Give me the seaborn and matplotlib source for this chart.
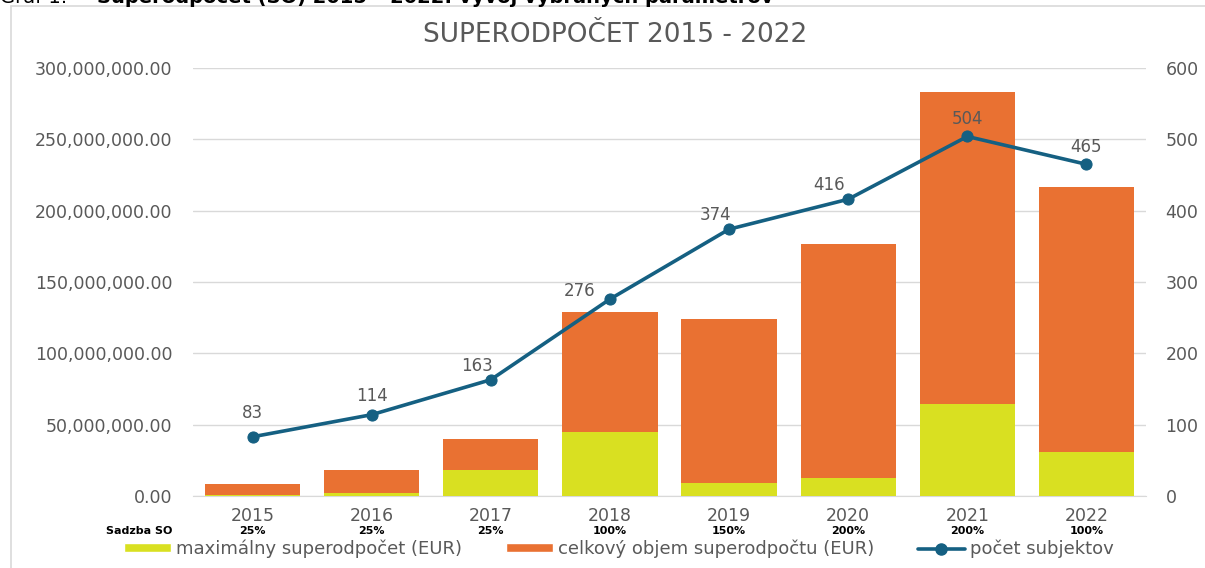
import numpy as np
import pandas as pd
import seaborn as sns
import matplotlib.pyplot as plt
from matplotlib.patches import Patch
from matplotlib.lines import Line2D
from matplotlib.ticker import FuncFormatter, MultipleLocator
import matplotlib.transforms as mtransforms

# data
years = ['2015', '2016', '2017', '2018', '2019', '2020', '2021', '2022']
rates = ['25%', '25%', '25%', '100%', '150%', '200%', '200%', '100%']
total_volume = [8.5e6, 18.3e6, 40.0e6, 129.0e6, 124.0e6, 176.5e6, 283.0e6, 216.5e6]
max_deduction = [0.6e6, 2.2e6, 18.2e6, 45.0e6, 9.3e6, 12.4e6, 64.5e6, 30.8e6]
subjects = [83, 114, 163, 276, 374, 416, 504, 465]

# label offsets (px, label centre relative to point)
label_offsets = [(0, 24), (0, 19), (-14, 14), (-30, 8), (-14, 14), (-19, 14), (0, 17), (0, 17)]

orange = '#E97132'
yellow = '#D9E021'
blue = '#156082'
grey = '#595959'

df = pd.DataFrame({'rok': years, 'celkovy': total_volume, 'max': max_deduction,
                   'pocet': subjects})

sns.set_style('white')
plt.rcParams['font.family'] = ['DejaVu Sans']

fig = plt.figure(figsize=(12.05, 5.68), dpi=100)
ax = fig.add_axes([193 / 1205, 1 - 496 / 568, 953 / 1205, 428 / 568])

sns.barplot(data=df, x='rok', y='celkovy', color=orange, saturation=1, width=0.8,
            linewidth=0, ax=ax, zorder=2)
sns.barplot(data=df, x='rok', y='max', color=yellow, saturation=1, width=0.8,
            linewidth=0, ax=ax, zorder=3)

ax.set_xlim(-0.5, len(years) - 0.5)
ax.set_ylim(0, 300e6)
ax.yaxis.set_major_locator(MultipleLocator(50e6))
ax.yaxis.set_major_formatter(FuncFormatter(lambda v, p: f'{v:,.2f}'))
ax.grid(axis='y', color='#d9d9d9', linewidth=1)
ax.set_axisbelow(True)
ax.set_xlabel('')
ax.set_ylabel('')
for s in ['top', 'left', 'right']:
    ax.spines[s].set_visible(False)
ax.spines['bottom'].set_color('#d9d9d9')
ax.tick_params(axis='both', length=0, colors=grey, labelsize=12.5)
ax.tick_params(axis='y', pad=15)
ax.tick_params(axis='x', pad=8)

ax2 = ax.twinx()
pos = np.arange(len(years))
sns.lineplot(x=pos, y=subjects, ax=ax2, color=blue, linewidth=2.6, marker='o',
             markersize=8, markeredgecolor=blue)
ax2.set_ylim(0, 600)
ax2.yaxis.set_major_locator(MultipleLocator(100))
ax2.set_ylabel('')
for s in ax2.spines.values():
    s.set_visible(False)
ax2.tick_params(axis='y', length=0, colors=grey, labelsize=12.5, pad=14)

for i, v in enumerate(subjects):
    dx, dy = label_offsets[i]
    ax2.annotate(str(v), xy=(pos[i], v), xytext=(dx * 0.72, dy * 0.72),
                 textcoords='offset points', ha='center', va='center',
                 fontsize=12, color=grey)

# sadzba SO row
trans = mtransforms.blended_transform_factory(ax.transData, ax.transAxes)
for i, r in enumerate(rates):
    ax.text(i, -35 / 428, r, transform=trans, ha='center', va='center',
            fontsize=8, fontweight='bold', color='black')
fig.text(172 / 1205, 1 - 531 / 568, 'Sadzba SO', ha='right', va='center',
         fontsize=8, fontweight='bold', color='black')

# title
fig.text(615 / 1205, 1 - 35 / 568, 'SUPERODPOČET 2015 - 2022', ha='center',
         va='center', fontsize=19, color=grey)

# cropped caption at top
fig.text(0.0, 1 - 3 / 568, 'Graf 1:', ha='left', va='baseline', fontsize=14,
         color='black')
fig.text(97 / 1205, 1 - 3 / 568,
         'Superodpočet (SO) 2015 – 2022: vývoj vybraných parametrov',
         ha='left', va='baseline', fontsize=14, fontweight='bold', color='black')

# frame
fig.add_artist(Line2D([11 / 1205, 11 / 1205], [0, 1 - 6 / 568],
                      transform=fig.transFigure, color='#d9d9d9', linewidth=1.2))
fig.add_artist(Line2D([11 / 1205, 1], [1 - 6 / 568, 1 - 6 / 568],
                      transform=fig.transFigure, color='#d9d9d9', linewidth=1.2))

handles = [Patch(facecolor=yellow, label='maximálny superodpočet (EUR)'),
           Patch(facecolor=orange, label='celkový objem superodpočtu (EUR)'),
           Line2D([], [], color=blue, linewidth=2.6, marker='o', markersize=8,
                  label='počet subjektov')]
leg = fig.legend(handles=handles, loc='center', bbox_to_anchor=(619 / 1205, 1 - 549 / 568),
                 ncol=3, frameon=False, fontsize=13, handlelength=2.6,
                 handleheight=0.4, handletextpad=0.3, columnspacing=2.4,
                 borderpad=0)
for t in leg.get_texts():
    t.set_color(grey)

fig.savefig('out.png', dpi=100)
